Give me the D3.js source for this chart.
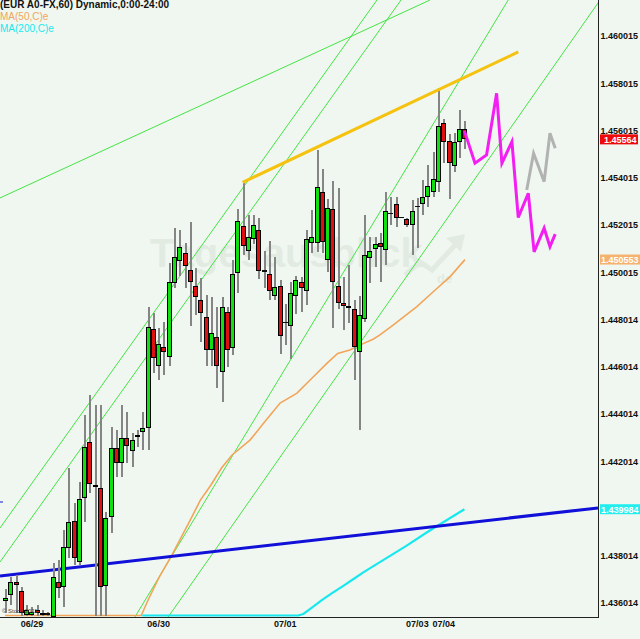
<!DOCTYPE html>
<html><head><meta charset="utf-8">
<script src="https://cdn.jsdelivr.net/npm/d3@7"></script>
<style>html,body{margin:0;padding:0;background:#f0f7f0}svg{display:block}</style>
</head><body><svg id="c" width="640" height="639"></svg>
<script>
// ---- data (hourly candles) ----
const opens  = [1.43611,1.43635,1.43692,1.43652,1.43551,1.43551,1.43572,1.43551,1.43555,1.43543,
1.43692,1.43670,1.43833,1.43950,1.43776,1.44045,1.44284,1.44102,1.44087,1.43675,
1.43964,1.44256,1.44193,1.44299,1.44246,1.44303,1.44324,1.44343,1.44761,1.44606,
1.44684,1.44644,1.44955,1.45050,1.45082,1.45011,1.44943,1.44884,1.44811,1.44672,
1.44729,1.44581,1.44832,1.44682,1.44997,1.45199,1.45093,1.45142,1.45180,1.45011,
1.44993,1.44902,1.44943,1.44790,1.44775,1.44902,1.44959,1.44923,1.45124,1.45124,
1.45340,1.45053,1.45269,1.44945,1.44870,1.44859,1.44845,1.44665,1.44804,1.45061,
1.45099,1.45124,1.45096,1.45254,1.45289,1.45234,1.45227,1.45201,1.45282,1.45290,
1.45321,1.45342,1.45382,1.45632,1.45558,1.45453,1.45552,1.45608];
const highs  = [1.43661,1.43713,1.43720,1.43670,1.43593,1.43586,1.43593,1.43572,1.43565,1.43771,
1.43783,1.43910,1.44173,1.44025,1.44115,1.44397,1.44482,1.44440,1.44440,1.43985,
1.44348,1.44334,1.44440,1.44411,1.44321,1.44334,1.44411,1.44853,1.44828,1.44764,
1.44792,1.45039,1.45188,1.45180,1.45124,1.45213,1.45018,1.44976,1.44905,1.44898,
1.44856,1.44898,1.44856,1.45053,1.45268,1.45382,1.45244,1.45244,1.45230,1.45093,
1.45134,1.45067,1.44969,1.44867,1.44962,1.44987,1.44983,1.45180,1.45265,1.45519,
1.45439,1.45312,1.45389,1.45357,1.44983,1.45032,1.44884,1.44900,1.45244,1.45152,
1.45152,1.45166,1.45342,1.45321,1.45321,1.45234,1.45230,1.45307,1.45314,1.45392,
1.45455,1.45512,1.45780,1.45649,1.45587,1.45590,1.45688,1.45643];
const lows   = [1.43559,1.43593,1.43559,1.43500,1.43520,1.43530,1.43543,1.43543,1.43540,1.43520,
1.43621,1.43586,1.43792,1.43762,1.43762,1.43946,1.44066,1.43450,1.43450,1.43480,
1.43896,1.44136,1.44136,1.44193,1.44178,1.44263,1.44249,1.44249,1.44574,1.44545,
1.44567,1.44606,1.44934,1.44987,1.44934,1.44774,1.44821,1.44708,1.44606,1.44606,
1.44510,1.44454,1.44602,1.44651,1.44912,1.45075,1.45053,1.45121,1.44972,1.44934,
1.44884,1.44884,1.44655,1.44694,1.44634,1.44825,1.44834,1.44863,1.45084,1.45088,
1.45084,1.45004,1.44764,1.44846,1.44757,1.44785,1.44545,1.44334,1.44792,1.44955,
1.45025,1.44962,1.45032,1.45201,1.45194,1.45234,1.45194,1.45075,1.45103,1.45244,
1.45279,1.45321,1.45340,1.45463,1.45312,1.45427,1.45484,1.45522];
const closes = [1.43623,1.43692,1.43678,1.43558,1.43572,1.43565,1.43559,1.43559,1.43558,1.43713,
1.43664,1.43840,1.43946,1.43791,1.44042,1.44263,1.44105,1.44094,1.43668,1.43960,
1.44256,1.44193,1.44299,1.44266,1.44291,1.44313,1.44341,1.44771,1.44637,1.44698,
1.44663,1.44959,1.45067,1.45107,1.45029,1.44962,1.44895,1.44828,1.44672,1.44743,
1.44606,1.44853,1.44672,1.44994,1.45220,1.45114,1.45149,1.45201,1.45008,1.45008,
1.44922,1.44938,1.44733,1.44790,1.44912,1.44969,1.44934,1.45142,1.45149,1.45361,
1.45128,1.45272,1.44962,1.44870,1.44860,1.44849,1.44686,1.44821,1.45075,1.45091,
1.45121,1.45107,1.45261,1.45254,1.45232,1.45234,1.45201,1.45261,1.45282,1.45321,
1.45367,1.45396,1.45621,1.45552,1.45465,1.45554,1.45608,1.45564];

const ma50Idx = [0,25.8,27.1,29.1,31.6,35.1,37,39,41,43,46.4,49,52.1,55.3,58.4,61,63,65.3,67.3,69.8,71,73.5,78,81.1,84.3,87.1];
const ma50Val = [1.4340,1.4353,1.43614,1.43707,1.43804,1.43953,1.44037,1.44101,1.44173,1.44228,1.44291,1.44363,1.44448,1.44490,1.44559,1.44617,1.44658,1.44672,1.44694,1.44719,1.44736,1.44778,1.44856,1.44919,1.44983,1.45055];
const ma200Idx = [26,55.5,56.5,58,60,62,64,66,68,72,76,80,84,87];
const ma200Val = [1.4350,1.43542,1.43555,1.43580,1.43614,1.43644,1.43673,1.43703,1.43733,1.43788,1.43843,1.43902,1.43957,1.43998];

const projMagIdx = [87,89,91.2,93.1,94.1,96,97.2,99.1,100.2,102.1,103.2,104.2];
const projMagVal = [1.45600,1.45463,1.45498,1.45759,1.45463,1.45554,1.45233,1.45336,1.45088,1.45188,1.45110,1.45163];
const projGrayIdx = [98.8,100.1,102.1,103.2,104.2];
const projGrayVal = [1.45350,1.45505,1.45385,1.45590,1.45526];

// trend lines: [index, price] end points
const greenLines = [
  [[-0.947,1.45316],[80.5,1.46154]],
  [[-0.947,1.43919],[70.45,1.46154]],
  [[-0.947,1.43775],[75.0,1.46154]],
  [[24.6,1.43542],[95.3,1.46154]],
  [[30.9,1.43542],[112.7,1.46154]]
];
const yellowLine = [[45,1.45382],[97.2,1.45934]];
const blueLine = [[-0.947,1.43716],[112.3,1.44004]];

const yTickVals = [1.460015,1.458015,1.456015,1.454015,1.452015,1.450015,1.448014,1.446014,1.444014,1.442014,1.440014,1.438014,1.436014];
const yTickLabels = ["1.460015","1.458015","1.456015","1.454015","1.452015","1.450015","1.448014","1.446014","1.444014","1.442014","1.440014","1.438014","1.436014"];
const dayIdx = [5,29,53,78,83];
const dayLabels = ["06/29","06/30","07/01","07/03","07/04"];

const lastClose = "1.45564", lastMa50 = "1.450553", lastMa200 = "1.439984";

// ---- layout ----
const plotR = 598, plotB = 617;
const svg = d3.select("#c");
const x = d3.scaleLinear().domain([-0.947, 112.3]).range([0, plotR]);
const y = d3.scaleLinear().domain([1.436014, 1.460015]).range([603, 36]);
const yc = d3.scaleLinear().domain([y.invert(615.5), y.invert(-5)]).range([615.5, -5]).clamp(true);

svg.append("rect").attr("width",640).attr("height",639).attr("fill","#f0f7f0");

svg.append("defs").append("clipPath").attr("id","clip")
  .append("rect").attr("x",0).attr("y",0).attr("width",plotR).attr("height",plotB);

const g = svg.append("g").attr("clip-path","url(#clip)");

// watermark
g.append("text").attr("x",150).attr("y",267).attr("font-family","Liberation Sans, Arial, sans-serif")
  .attr("font-weight","bold").attr("font-size",40).attr("fill","#e2ebe2").text("Tagesausblick");
g.append("text").attr("x",437).attr("y",283).attr("font-family","Liberation Sans, Arial, sans-serif")
  .attr("font-weight","bold").attr("font-size",13).attr("fill","#e2ebe2").text("de");
g.append("path").attr("d","M405,275 L420,262 L432,270 L458,242").attr("fill","none").attr("stroke","#e2ebe2").attr("stroke-width",5);
g.append("path").attr("d","M446,238 L465,234 L461,252 Z").attr("fill","#e2ebe2");

const pt = d => [x(d[0]), y(d[1])];
const seg = (arr, col, w) => g.append("line")
  .attr("x1",x(arr[0][0])).attr("y1",y(arr[0][1])).attr("x2",x(arr[1][0])).attr("y2",y(arr[1][1]))
  .attr("stroke",col).attr("stroke-width",w);

greenLines.forEach(l => seg(l, "#44e444", 1));

// moving averages
const lineC = d3.line().x(d => x(d[0])).y(d => yc(d[1]));
g.append("path").datum(ma50Idx.map((d,i)=>[d,ma50Val[i]])).attr("d",lineC)
  .attr("fill","none").attr("stroke","#f2a55a").attr("stroke-width",1.6);
g.append("path").datum(ma200Idx.map((d,i)=>[d,ma200Val[i]])).attr("d",lineC)
  .attr("fill","none").attr("stroke","#18e8ee").attr("stroke-width",2.2);

seg(blueLine, "#1010d8", 3);

// candles
const cg = g.append("g");
opens.forEach((o,i) => {
  const h = highs[i], l = lows[i], c = closes[i];
  const cx = Math.round(x(i));
  const yh = Math.round(yc(h)), yl = Math.round(yc(l));
  cg.append("rect").attr("x",cx).attr("y",yh).attr("width",2).attr("height",Math.max(1,yl-yh)).attr("fill","#858585");
  const yt = Math.round(y(Math.max(o,c))), yb = Math.round(y(Math.min(o,c)));
  if (yb - yt < 2) {
    cg.append("rect").attr("x",cx-2).attr("y",yt).attr("width",5).attr("height",Math.max(1,yb-yt+1))
      .attr("fill", "#111");
  } else {
    cg.append("rect").attr("x",cx-1.5).attr("y",yt+0.5).attr("width",4).attr("height",yb-yt-1)
      .attr("fill", c >= o ? "#10e010" : "#e01010").attr("stroke","#000").attr("stroke-width",1);
  }
});

seg(yellowLine, "#f5c20f", 3);

const lineP = d3.line().x(d => x(d[0])).y(d => y(d[1]));
g.append("path").datum(projGrayIdx.map((d,i)=>[d,projGrayVal[i]])).attr("d",lineP)
  .attr("fill","none").attr("stroke","#b2b2b2").attr("stroke-width",3).attr("stroke-linejoin","miter");
g.append("path").datum(projMagIdx.map((d,i)=>[d,projMagVal[i]])).attr("d",lineP)
  .attr("fill","none").attr("stroke","#f21ef2").attr("stroke-width",3).attr("stroke-linejoin","miter");

// small blue mark at left edge
g.append("line").attr("x1",0).attr("x2",3).attr("y1",502).attr("y2",502).attr("stroke","#1010d8").attr("stroke-width",1);

// copyright
svg.append("text").attr("x",2).attr("y",613).attr("font-family","Liberation Sans, Arial, sans-serif")
  .attr("font-size",6).attr("fill","#444").text("© Stock 2011");

// axes
const font = "Liberation Sans, Arial, sans-serif";
const ya = svg.append("g").attr("transform",`translate(${plotR+0.5},0)`)
  .call(d3.axisRight(y).tickValues(yTickVals).tickFormat((d,i)=>yTickLabels[i]).tickSize(0).tickPadding(2));
ya.select(".domain").remove();
ya.selectAll("text").attr("font-family",font).attr("font-weight","bold").attr("font-size",9).attr("fill","#111");
svg.append("line").attr("x1",plotR+0.5).attr("x2",plotR+0.5).attr("y1",0).attr("y2",plotB+0.5).attr("stroke","#222").attr("stroke-width",1);
svg.append("line").attr("x1",0).attr("x2",plotR+1).attr("y1",plotB+0.5).attr("y2",plotB+0.5).attr("stroke","#222").attr("stroke-width",1);

const xa = svg.append("g").attr("transform",`translate(0,${plotB+0.5})`)
  .call(d3.axisBottom(x).tickValues(dayIdx).tickFormat((d,i)=>dayLabels[i]).tickSize(0).tickPadding(3));
xa.select(".domain").remove();
xa.selectAll("text").attr("font-family",font).attr("font-weight","bold").attr("font-size",9).attr("fill","#111");

// value boxes
function box(yPos, col, txt, x0, w, tx) {
  svg.append("rect").attr("x",x0).attr("y",yPos-5).attr("width",w).attr("height",10).attr("fill",col);
  svg.append("text").attr("x",tx).attr("y",yPos+3.5).attr("font-family",font).attr("font-weight","bold")
    .attr("font-size",9).attr("fill","#fff").text(txt);
}
box(y(+lastClose), "#ee0a0a", lastClose, 600, 38, 604);
box(y(+lastMa50), "#f5b26e", lastMa50, 600, 40, 601);
box(y(+lastMa200), "#22eeee", lastMa200, 600, 40, 601);

// legend
svg.append("text").attr("x",0).attr("y",8).attr("font-family",font).attr("font-weight","bold").attr("font-size",10).attr("fill","#111").text("(EUR A0-FX,60) Dynamic,0:00-24:00");
svg.append("text").attr("x",0).attr("y",20).attr("font-family",font).attr("font-size",10).attr("fill","#f2a55a").text("MA(50,C)e");
svg.append("text").attr("x",0).attr("y",32).attr("font-family",font).attr("font-size",10).attr("fill","#18e8ee").text("MA(200,C)e");
</script></body></html>
